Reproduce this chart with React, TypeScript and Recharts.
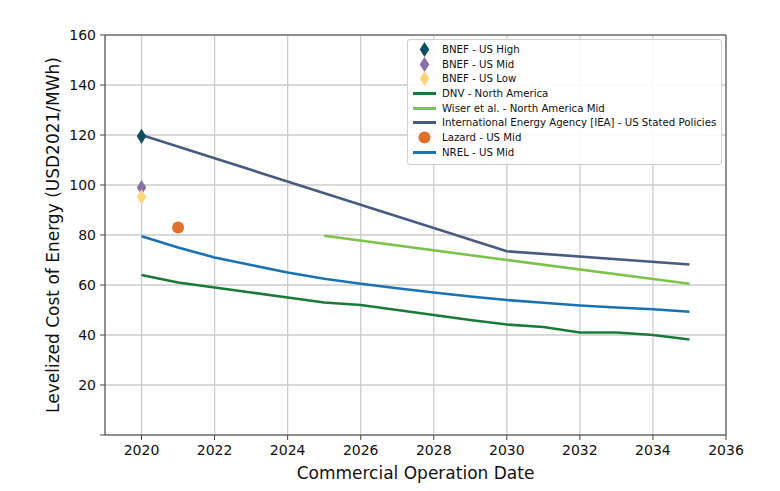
import React from "react";
import {
  ComposedChart,
  Line,
  Scatter,
  XAxis,
  YAxis,
  CartesianGrid,
  ReferenceLine,
} from "recharts";

// --- data ---
const nrelYears = [2020, 2021, 2022, 2023, 2024, 2025, 2026, 2027, 2028, 2029, 2030, 2031, 2032, 2033, 2034, 2035];
const nrelValues = [79.5, 75, 71, 68, 65, 62.5, 60.5, 58.7, 57, 55.4, 54, 52.9, 51.8, 51, 50.3, 49.3];
const dnvYears = nrelYears;
const dnvValues = [64, 61, 59, 57, 55, 53, 52, 50, 48, 46, 44.2, 43.2, 41, 41, 40, 38.2];
const ieaYears = [2020, 2030, 2035];
const ieaValues = [120, 73.5, 68.2];
const wiserYears = [2025, 2030, 2035];
const wiserValues = [79.7, 70, 60.5];

const bnefHigh = [{ year: 2020, value: 119.5 }];
const bnefMid = [{ year: 2020, value: 99 }];
const bnefLow = [{ year: 2020, value: 95.3 }];
const lazard = [{ year: 2021, value: 83 }];

const xTicks = [2020, 2022, 2024, 2026, 2028, 2030, 2032, 2034, 2036];
const yTicks = [0, 20, 40, 60, 80, 100, 120, 140, 160];

const toRows = (years: number[], values: number[]) =>
  years.map((year, i) => ({ year, value: values[i] }));

const C = {
  high: "#0e4e5e",
  mid: "#8a70a8",
  low: "#fdd67a",
  dnv: "#1a7a3a",
  wiser: "#7dc24d",
  iea: "#475b80",
  lazard: "#e2702a",
  nrel: "#1a72b5",
};

const FONT = "'DejaVu Sans', sans-serif";

const Diamond = (color: string) => (props: any) => {
  const { cx, cy } = props;
  return (
    <polygon
      points={`${cx},${cy - 7.5} ${cx + 4.8},${cy} ${cx},${cy + 7.5} ${cx - 4.8},${cy}`}
      fill={color}
    />
  );
};

const Dot = (color: string) => (props: any) => (
  <circle cx={props.cx} cy={props.cy} r={6} fill={color} />
);

const legendItems = [
  { name: "BNEF - US High", color: C.high, kind: "diamond" },
  { name: "BNEF - US Mid", color: C.mid, kind: "diamond" },
  { name: "BNEF - US Low", color: C.low, kind: "diamond" },
  { name: "DNV - North America", color: C.dnv, kind: "line" },
  { name: "Wiser et al. - North America Mid", color: C.wiser, kind: "line" },
  { name: "International Energy Agency [IEA] - US Stated Policies", color: C.iea, kind: "line" },
  { name: "Lazard - US Mid", color: C.lazard, kind: "circle" },
  { name: "NREL - US Mid", color: C.nrel, kind: "line" },
];

const LegendBox = () => (
  <div
    style={{
      position: "absolute",
      left: 407,
      top: 39,
      background: "rgba(255,255,255,0.9)",
      border: "1px solid #d0d0d0",
      borderRadius: 3,
      padding: "2px 5px 4px 4px",
      fontFamily: FONT,
      fontSize: 10.2,
      color: "#111",
    }}
  >
    {legendItems.map((it) => (
      <div key={it.name} style={{ display: "flex", alignItems: "center", height: 14.7 }}>
        <svg width={30} height={15} style={{ flexShrink: 0 }}>
          {it.kind === "line" && (
            <line x1={1} x2={24} y1={7.5} y2={7.5} stroke={it.color} strokeWidth={3} />
          )}
          {it.kind === "diamond" && (
            <polygon points="12.5,0 17.3,7.5 12.5,15 7.7,7.5" fill={it.color} />
          )}
          {it.kind === "circle" && <circle cx={12.5} cy={7.5} r={6} fill={it.color} />}
        </svg>
        <span style={{ whiteSpace: "nowrap" }}>{it.name}</span>
      </div>
    ))}
  </div>
);

export default function App() {
  return (
    <div style={{ position: "absolute", left: 0, top: 0, width: 780, height: 491, background: "#fff" }}>
      <ComposedChart
        width={780}
        height={491}
        margin={{ top: 35, right: 54, left: 0, bottom: 0 }}
      >
        <CartesianGrid stroke="#cccccc" strokeWidth={1.3} />
        <XAxis
          type="number"
          dataKey="year"
          domain={[2019, 2036]}
          ticks={xTicks}
          allowDataOverflow
          height={56}
          stroke="#444"
          tickSize={5}
          tickMargin={5}
          tick={{ fill: "#111", fontSize: 14, fontFamily: FONT }}
          label={{
            value: "Commercial Operation Date",
            position: "center",
            dy: 10,
            fill: "#111",
            fontSize: 17,
            fontFamily: FONT,
          }}
        />
        <YAxis
          type="number"
          dataKey="value"
          domain={[0, 160]}
          ticks={yTicks}
          width={105}
          stroke="#444"
          tickSize={5}
          tickMargin={4}
          tickFormatter={(v: number) => (v === 0 ? "" : String(v))}
          tick={{ fill: "#111", fontSize: 14, fontFamily: FONT }}
          label={{
            value: "Levelized Cost of Energy (USD2021/MWh)",
            position: "center",
            angle: -90,
            fill: "#111",
            fontSize: 17,
            fontFamily: FONT,
          }}
        />
        <ReferenceLine y={160} stroke="#444" strokeWidth={1} />
        <ReferenceLine x={2036} stroke="#444" strokeWidth={1} />

        <Line data={toRows(dnvYears, dnvValues)} dataKey="value" name="DNV - North America" stroke={C.dnv} strokeWidth={2.6} dot={false} type="linear" isAnimationActive={false} />
        <Line data={toRows(wiserYears, wiserValues)} dataKey="value" name="Wiser et al. - North America Mid" stroke={C.wiser} strokeWidth={2.6} dot={false} type="linear" isAnimationActive={false} />
        <Line data={toRows(ieaYears, ieaValues)} dataKey="value" name="International Energy Agency [IEA] - US Stated Policies" stroke={C.iea} strokeWidth={2.6} dot={false} type="linear" isAnimationActive={false} />
        <Line data={toRows(nrelYears, nrelValues)} dataKey="value" name="NREL - US Mid" stroke={C.nrel} strokeWidth={2.6} dot={false} type="linear" isAnimationActive={false} />

        <Scatter data={bnefHigh} dataKey="value" name="BNEF - US High" shape={Diamond(C.high)} isAnimationActive={false} />
        <Scatter data={bnefMid} dataKey="value" name="BNEF - US Mid" shape={Diamond(C.mid)} isAnimationActive={false} />
        <Scatter data={bnefLow} dataKey="value" name="BNEF - US Low" shape={Diamond(C.low)} isAnimationActive={false} />
        <Scatter data={lazard} dataKey="value" name="Lazard - US Mid" shape={Dot(C.lazard)} isAnimationActive={false} />
      </ComposedChart>
      <LegendBox />
    </div>
  );
}
